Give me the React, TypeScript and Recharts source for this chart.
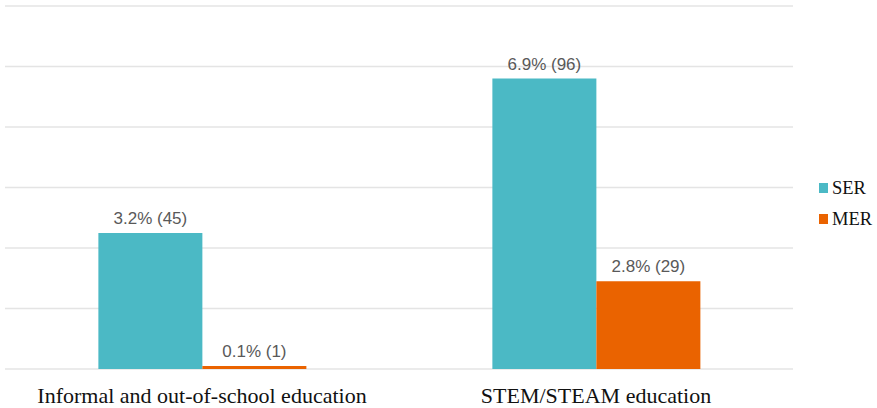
import React from "react";
import { BarChart, Bar, XAxis, YAxis, CartesianGrid, LabelList } from "recharts";

const categories = ["Informal and out-of-school education", "STEM/STEAM education"];
const seriesNames = ["SER", "MER"];
const serCounts = [45, 96];
const merCounts = [1, 29];
const serLabels = ["3.2% (45)", "6.9% (96)"];
const merLabels = ["0.1% (1)", "2.8% (29)"];
const yTicks = [0, 20, 40, 60, 80, 100, 120];

const SER_COLOR = "#4BB9C5";
const MER_COLOR = "#EA6300";
const colors = [SER_COLOR, MER_COLOR];

const data = categories.map((c, i) => ({
  category: c,
  SER: serCounts[i],
  MER: merCounts[i],
  serLabel: serLabels[i],
  merLabel: merLabels[i],
}));

const SERIF = "'Liberation Serif', 'Times New Roman', serif";
const SANS = "'Liberation Sans', Arial, sans-serif";

const CategoryTick = (props: any) => {
  const { x, y, payload } = props;
  return (
    <text x={x} y={y} dy={26} textAnchor="middle" fontFamily={SERIF} fontSize={22} fill="#111">
      {payload.value}
    </text>
  );
};

export default function App() {
  return (
    <div style={{ position: "absolute", left: 0, top: 0, width: 877, height: 408, background: "#fff" }}>
      <BarChart
        width={877}
        height={408}
        data={data}
        margin={{ top: 6, right: 84, bottom: 0, left: 5 }}
        barCategoryGap="23.7%"
        barGap={0}
      >
        <CartesianGrid vertical={false} stroke="#E4E4E4" strokeWidth={1.5} />
        <YAxis hide domain={[0, 120]} ticks={yTicks} />
        <XAxis
          dataKey="category"
          height={39}
          axisLine={false}
          tickLine={false}
          tick={<CategoryTick />}
          interval={0}
        />
        <Bar dataKey="SER" fill={SER_COLOR} isAnimationActive={false}>
          <LabelList dataKey="serLabel" position="top" offset={9} fill="#595959" fontSize={17} fontFamily={SANS} />
        </Bar>
        <Bar dataKey="MER" fill={MER_COLOR} isAnimationActive={false}>
          <LabelList dataKey="merLabel" position="top" offset={9} fill="#595959" fontSize={17} fontFamily={SANS} />
        </Bar>
      </BarChart>
      <svg style={{ position: "absolute", left: 819, top: 178 }} width={58} height={60}>
        {seriesNames.map((name, i) => (
          <g key={name}>
            <rect x={0} y={5 + i * 31} width={9} height={10} fill={colors[i]} />
            <text x={13} y={16 + i * 31} fontFamily={SERIF} fontSize={18.5} fill="#111">
              {name}
            </text>
          </g>
        ))}
      </svg>
    </div>
  );
}
